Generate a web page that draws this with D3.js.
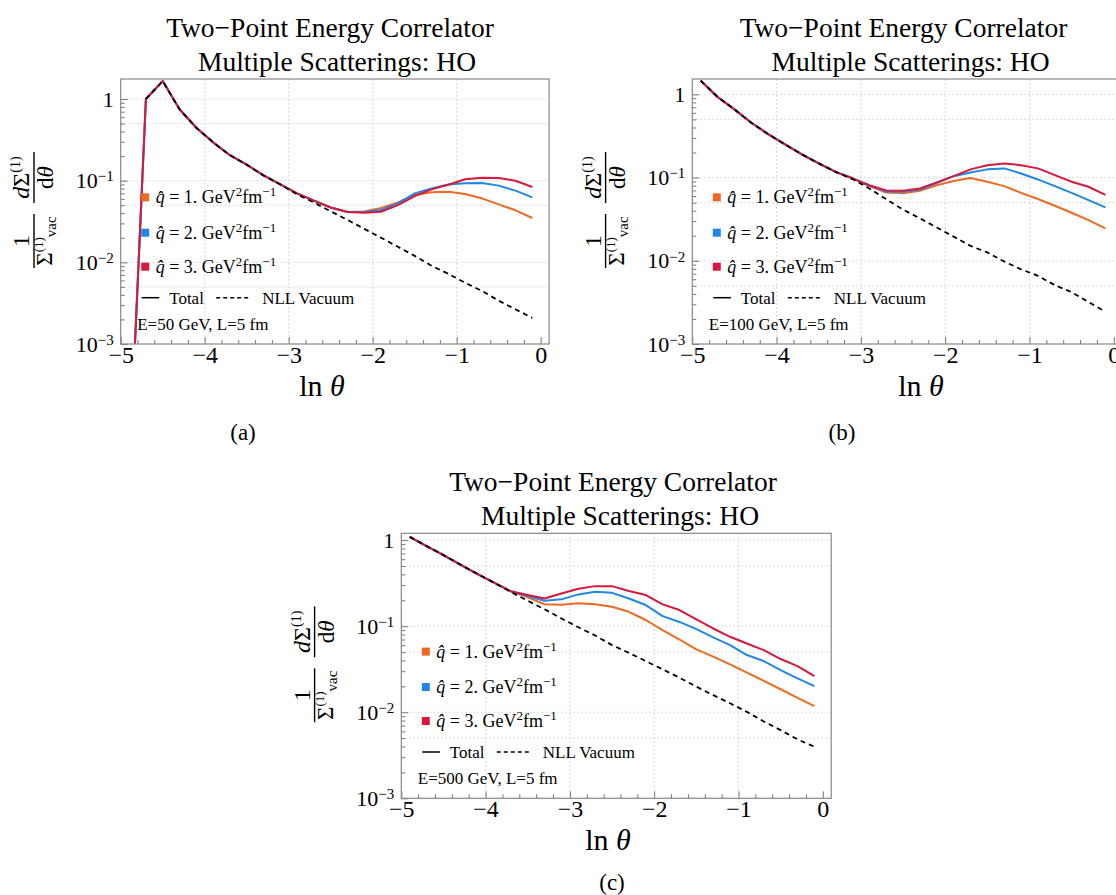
<!DOCTYPE html>
<html>
<head>
<meta charset="utf-8">
<script src="https://cdn.jsdelivr.net/npm/d3@7"></script>
<style>
  body { margin: 0; background: #fff; }
  text { font-family: "Liberation Serif", "Times New Roman", serif; fill: #000; }
</style>
</head>
<body>
<div id="chart"></div>
<script>
// ln(theta) sample points shared by every curve
var lnTheta = [-4.9, -4.7, -4.5, -4.3, -4.1, -3.9, -3.7, -3.5, -3.3, -3.1, -2.9, -2.7, -2.5,
               -2.3, -2.1, -1.9, -1.7, -1.5, -1.3, -1.1, -0.9, -0.7, -0.5, -0.3, -0.1];

var qhatValues = ["1.", "2.", "3."];
var seriesColors = ["#ee6a24", "#1f88e5", "#d7193c"];

var xTicks = [-5, -4, -3, -2, -1, 0];
var yTicks = [0.001, 0.01, 0.1, 1];

// (a) E = 50 GeV
var aQ1 = [2.5e-5, 1.0, 1.66, 0.75, 0.445, 0.295, 0.205, 0.157, 0.116, 0.090, 0.070, 0.057, 0.047,
           0.0415, 0.042, 0.0463, 0.0543, 0.0668, 0.072, 0.0733, 0.0687, 0.0608, 0.0513, 0.0434, 0.0349];
var aQ2 = [2.5e-5, 1.0, 1.66, 0.75, 0.445, 0.295, 0.205, 0.157, 0.116, 0.090, 0.070, 0.057, 0.047,
           0.0413, 0.0413, 0.0437, 0.0528, 0.070, 0.0805, 0.090, 0.093, 0.0937, 0.087, 0.0755, 0.0625];
var aQ3 = [2.5e-5, 1.0, 1.66, 0.75, 0.445, 0.295, 0.205, 0.157, 0.116, 0.090, 0.070, 0.057, 0.047,
           0.0413, 0.0405, 0.0417, 0.0503, 0.0649, 0.0783, 0.0893, 0.104, 0.109, 0.108, 0.100, 0.0837];
var aVac = [null, 1.0, 1.66, 0.75, 0.445, 0.295, 0.205, 0.157, 0.116, 0.090, 0.068, 0.054, 0.0422,
            0.0331, 0.0257, 0.0200, 0.0155, 0.0120, 0.0091, 0.00724, 0.00562, 0.00447, 0.00339, 0.00266, 0.00209];

// (b) E = 100 GeV
var bQ1 = [1.46, 0.93, 0.66, 0.456, 0.333, 0.25, 0.19, 0.148, 0.117, 0.098, 0.079, 0.066, 0.065,
           0.0695, 0.081, 0.091, 0.0986, 0.089, 0.079, 0.0656, 0.0552, 0.0458, 0.0378, 0.0308, 0.0245];
var bQ2 = [1.46, 0.93, 0.66, 0.456, 0.333, 0.25, 0.19, 0.148, 0.117, 0.098, 0.080, 0.068, 0.0675,
           0.072, 0.086, 0.104, 0.115, 0.1255, 0.129, 0.112, 0.095, 0.079, 0.0656, 0.0537, 0.0438];
var bQ3 = [1.46, 0.93, 0.66, 0.456, 0.333, 0.25, 0.19, 0.148, 0.117, 0.098, 0.081, 0.070, 0.0695,
           0.074, 0.0875, 0.104, 0.1255, 0.141, 0.148, 0.141, 0.129, 0.107, 0.089, 0.0776, 0.0621];
var bVac = [1.46, 0.93, 0.66, 0.456, 0.333, 0.25, 0.19, 0.148, 0.117, 0.096, 0.074, 0.055, 0.0412,
            0.0324, 0.0251, 0.0195, 0.0151, 0.0126, 0.0098, 0.0079, 0.0066, 0.0051, 0.0042, 0.0032, 0.00245];

// (c) E = 500 GeV
var cQ1 = [1.09, 0.85, 0.67, 0.52, 0.406, 0.32, 0.254, 0.216, 0.18, 0.177, 0.185, 0.18, 0.168,
           0.147, 0.118, 0.090, 0.070, 0.0537, 0.0442, 0.036, 0.0288, 0.0232, 0.0185, 0.0147, 0.0118];
var cQ2 = [1.09, 0.85, 0.67, 0.52, 0.406, 0.32, 0.254, 0.224, 0.197, 0.205, 0.234, 0.251, 0.244,
           0.21, 0.176, 0.131, 0.112, 0.0925, 0.074, 0.0603, 0.0462, 0.0393, 0.0309, 0.0248, 0.0201];
var cQ3 = [1.09, 0.85, 0.67, 0.52, 0.406, 0.32, 0.254, 0.23, 0.21, 0.24, 0.272, 0.292, 0.292,
           0.256, 0.23, 0.179, 0.154, 0.12, 0.094, 0.0753, 0.063, 0.0527, 0.0415, 0.0344, 0.0263];
var cVac = [1.09, 0.85, 0.67, 0.52, 0.406, 0.32, 0.25, 0.197, 0.157, 0.123, 0.097, 0.078, 0.0603,
            0.049, 0.0393, 0.0315, 0.0252, 0.0198, 0.0158, 0.0127, 0.0101, 0.0078, 0.0062, 0.00484, 0.00398];

var energyLabels = ["E=50 GeV, L=5 fm", "E=100 GeV, L=5 fm", "E=500 GeV, L=5 fm"];
var panelTags = ["(a)", "(b)", "(c)"];

// layout of the three panels
var panels = [
    {left: 120.7, top: 79, bottom: 344, ppu: 84, yTop: 1.76, q: [aQ1, aQ2, aQ3], vac: aVac,
     energy: energyLabels[0], tag: panelTags[0], titleX: 330, xLabelX: 322, tagX: 243, tagY: 440, barX: 34},
    {left: 692.3, top: 79, bottom: 344, ppu: 84.3, yTop: 1.53, q: [bQ1, bQ2, bQ3], vac: bVac,
     energy: energyLabels[1], tag: panelTags[1], titleX: 903.5, xLabelX: 921, tagX: 842, tagY: 440, barX: 605.6},
    {left: 401.3, top: 533.3, bottom: 798.3, ppu: 84.3, yTop: 1.2, q: [cQ1, cQ2, cQ3], vac: cVac,
     energy: energyLabels[2], tag: panelTags[2], titleX: 613, xLabelX: 608, tagX: 612, tagY: 890, barX: 314.6}
];

var svg = d3.select("#chart").append("svg")
    .attr("width", 1116)
    .attr("height", 895);

panels.forEach(function(p, i) { drawPanel(p, i); });

function drawPanel(p, idx) {
    var right = p.left + 5.1 * p.ppu;
    var xScale = d3.scaleLinear().domain([-5, 0.1]).range([p.left, right]);
    var yScale = d3.scaleLog().domain([1e-3, p.yTop]).range([p.bottom, p.top]);
    var g = svg.append("g");

    // grid
    var gridY = [0.005, 0.01, 0.05, 0.1, 0.5, 1];
    g.selectAll(".gy").data(gridY).join("line")
        .attr("x1", p.left).attr("x2", right)
        .attr("y1", function(d) { return yScale(d); })
        .attr("y2", function(d) { return yScale(d); })
        .attr("stroke", "#cfcfcf").attr("stroke-dasharray", "1.5,2.5");
    g.selectAll(".gx").data([-4, -3, -2, -1]).join("line")
        .attr("x1", function(d) { return xScale(d); })
        .attr("x2", function(d) { return xScale(d); })
        .attr("y1", p.top).attr("y2", p.bottom)
        .attr("stroke", "#cfcfcf").attr("stroke-dasharray", "1.5,2.5");

    var clipId = "clip" + idx;
    svg.append("clipPath").attr("id", clipId).append("rect")
        .attr("x", p.left).attr("y", p.top)
        .attr("width", right - p.left).attr("height", p.bottom - p.top);

    var line = d3.line()
        .defined(function(d) { return d[1] != null; })
        .x(function(d) { return xScale(d[0]); })
        .y(function(d) { return yScale(d[1]); });

    var plot = g.append("g").attr("clip-path", "url(#" + clipId + ")");
    p.q.forEach(function(vals, k) {
        plot.append("path")
            .datum(d3.zip(lnTheta, vals))
            .attr("d", line)
            .attr("fill", "none")
            .attr("stroke", seriesColors[k])
            .attr("stroke-width", 2)
            .attr("stroke-linejoin", "round");
    });
    plot.append("path")
        .datum(d3.zip(lnTheta, p.vac))
        .attr("d", line)
        .attr("fill", "none")
        .attr("stroke", "#000")
        .attr("stroke-width", 1.8)
        .attr("stroke-dasharray", "5,4");

    // axes
    var xAxis = d3.axisBottom(xScale).tickValues(xTicks)
        .tickSizeInner(-7).tickSizeOuter(0).tickPadding(2)
        .tickFormat(function(d) { return d === 0 ? "0" : "\u2212" + Math.abs(d); });
    var minorX = d3.range(0, 26).map(function(i) { return -5 + i * 0.2; })
        .filter(function(d) { return Math.abs(d - Math.round(d)) > 0.01; });
    g.append("g").attr("transform", "translate(0," + p.bottom + ")")
        .call(d3.axisBottom(xScale).tickValues(minorX).tickSizeInner(-4).tickSizeOuter(0).tickFormat(""))
        .call(function(s) { s.select(".domain").remove(); s.selectAll("line").attr("stroke", "#777"); });
    var gx = g.append("g").attr("transform", "translate(0," + p.bottom + ")").call(xAxis);
    gx.select(".domain").remove();
    gx.selectAll("line").attr("stroke", "#777");
    gx.selectAll("text").attr("font-size", 24).style("font-family", "Liberation Serif, serif");

    var minorY = [];
    [-3, -2, -1, 0].forEach(function(k) {
        for (var m = 2; m <= 9; m++) {
            var v = m * Math.pow(10, k);
            if (v < p.yTop) minorY.push(v);
        }
    });
    g.append("g").attr("transform", "translate(" + p.left + ",0)")
        .call(d3.axisLeft(yScale).tickValues(minorY).tickSizeInner(-4).tickSizeOuter(0).tickFormat(""))
        .call(function(s) { s.select(".domain").remove(); s.selectAll("line").attr("stroke", "#777"); });
    var gy = g.append("g").attr("transform", "translate(" + p.left + ",0)")
        .call(d3.axisLeft(yScale).tickValues(yTicks).tickSizeInner(-7).tickSizeOuter(0).tickPadding(7));
    gy.select(".domain").remove();
    gy.selectAll("line").attr("stroke", "#777");
    gy.selectAll("text").attr("font-size", 22).style("font-family", "Liberation Serif, serif")
        .each(function(d) {
            var t = d3.select(this);
            t.text(null);
            if (d === 1) { t.text("1"); return; }
            t.append("tspan").text("10");
            t.append("tspan").attr("dy", "-0.45em").attr("font-size", 15)
                .text("\u2212" + Math.round(-Math.log10(d)));
        });

    // frame
    g.append("rect")
        .attr("x", p.left).attr("y", p.top)
        .attr("width", right - p.left).attr("height", p.bottom - p.top)
        .attr("fill", "none").attr("stroke", "#888").attr("stroke-width", 1.2);

    // titles
    g.append("text").attr("x", p.titleX).attr("y", p.top - 42)
        .attr("text-anchor", "middle").attr("font-size", 27.5)
        .text("Two\u2212Point Energy Correlator");
    g.append("text").attr("x", p.titleX + 7).attr("y", p.top - 8)
        .attr("text-anchor", "middle").attr("font-size", 27.5)
        .text("Multiple Scatterings: HO");

    // x label
    var xl = g.append("text").attr("x", p.xLabelX).attr("y", p.bottom + 52)
        .attr("text-anchor", "middle").attr("font-size", 30);
    xl.append("tspan").text("ln ");
    xl.append("tspan").attr("font-style", "italic").text("\u03b8");

    g.append("text").attr("x", p.tagX).attr("y", p.tagY)
        .attr("text-anchor", "middle").attr("font-size", 23).text(p.tag);

    // y label, drawn upright then turned
    var yl = g.append("g")
        .attr("transform", "translate(" + p.barX + "," + ((p.top + p.bottom) / 2 + 28.5) + ") rotate(-90)");
    yl.append("line").attr("x1", -28).attr("x2", 26).attr("y1", 0).attr("y2", 0)
        .attr("stroke", "#000").attr("stroke-width", 1.4);
    yl.append("text").attr("x", -1).attr("y", -5).attr("text-anchor", "middle")
        .attr("font-size", 24).text("1");
    var den = yl.append("text").attr("x", -1).attr("y", 18).attr("text-anchor", "middle")
        .attr("font-size", 23);
    den.append("tspan").text("\u03a3");
    den.append("tspan").attr("dy", -9).attr("font-size", 13).text("(1)");
    den.append("tspan").attr("dy", 13).attr("font-size", 15).text("vac");

    yl.append("line").attr("x1", 37).attr("x2", 88).attr("y1", 0).attr("y2", 0)
        .attr("stroke", "#000").attr("stroke-width", 1.4);
    var num = yl.append("text").attr("x", 62.5).attr("y", -5).attr("text-anchor", "middle")
        .attr("font-size", 24);
    num.append("tspan").attr("font-style", "italic").text("d");
    num.append("tspan").text("\u03a3");
    num.append("tspan").attr("dy", -9).attr("font-size", 14).text("(1)");
    var dd = yl.append("text").attr("x", 62.5).attr("y", 19).attr("text-anchor", "middle")
        .attr("font-size", 23);
    dd.append("tspan").text("d");
    dd.append("tspan").attr("font-style", "italic").text("\u03b8");

    // legend
    var sqY = [118.3, 153.7, 187.7];
    sqY.forEach(function(sy, k) {
        g.append("rect")
            .attr("x", p.left + 20.5).attr("y", p.top + sy - 4)
            .attr("width", 8).attr("height", 8)
            .attr("fill", seriesColors[k]);
        var t = g.append("text").attr("x", p.left + 35).attr("y", p.top + sy + 6)
            .attr("font-size", 18);
        t.append("tspan").attr("font-style", "italic").text("q\u0302");
        t.append("tspan").text(" = " + qhatValues[k] + " GeV");
        t.append("tspan").attr("dy", -7).attr("font-size", 13).text("2");
        t.append("tspan").attr("dy", 7).text("fm");
        t.append("tspan").attr("dy", -7).attr("font-size", 13).text("\u22121");
    });
    var ly = p.top + 218.7;
    g.append("line").attr("x1", p.left + 21).attr("x2", p.left + 38.6)
        .attr("y1", ly).attr("y2", ly).attr("stroke", "#000").attr("stroke-width", 1.5);
    g.append("text").attr("x", p.left + 48.5).attr("y", ly + 6).attr("font-size", 17).text("Total");
    g.append("line").attr("x1", p.left + 95.5).attr("x2", p.left + 130)
        .attr("y1", ly).attr("y2", ly).attr("stroke", "#000").attr("stroke-width", 1.5)
        .attr("stroke-dasharray", "4,3");
    g.append("text").attr("x", p.left + 141.5).attr("y", ly + 6).attr("font-size", 17).text("NLL Vacuum");
    g.append("text").attr("x", p.left + 16.5).attr("y", p.top + 251).attr("font-size", 17).text(p.energy);
}
</script>
</body>
</html>
